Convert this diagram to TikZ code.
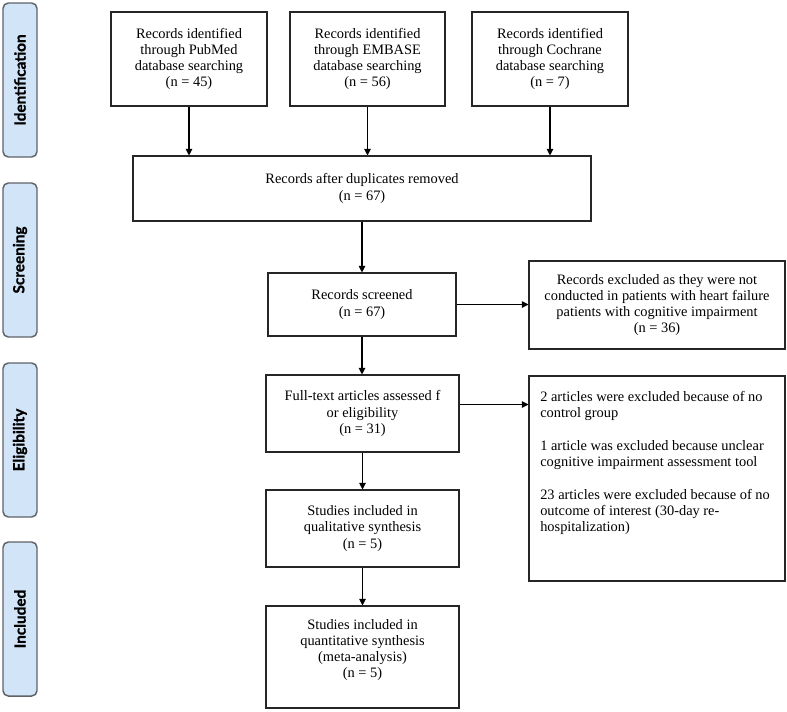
\documentclass[tikz,border=0pt]{standalone}
\usepackage{fontspec}
\setmainfont{Liberation Serif}
\newfontfamily\stagefont{Lato}[BoldFeatures={FakeBold=1.2}]
\usetikzlibrary{arrows.meta,positioning}
\definecolor{stageblue}{HTML}{D2E4F8}
\definecolor{stageedge}{HTML}{5F6368}

\begin{document}
\begin{tikzpicture}[x=0.75pt, y=-0.75pt,
    box/.style={draw=black!85, line width=0.8pt, align=center, inner sep=0pt,
      font=\fontsize{10.8}{12.2}\selectfont},
    stage/.style={draw=stageedge, fill=stageblue, rounded corners=4pt, line width=1.1pt,
      rotate=90, minimum width=115.5pt, minimum height=25.5pt,
      font=\stagefont\bfseries\fontsize{11.5}{13}\selectfont},
    arr/.style={-{Triangle[length=5pt,width=5pt]}, line width=0.8pt}]
  \useasboundingbox (0,0) rectangle (787,711);

  % Stage labels
  \node[stage] (ident) at (20,80) {Identification};
  \node[stage] (screen) at (20,260) {Screening};
  \node[stage] (elig) at (20,440) {Eligibility};
  \node[stage] (incl) at (20,619) {Included};

  % Database searches
  \node[box, minimum width=117pt, minimum height=70.5pt] (pubmed) at (189,59)
    {Records identified\\through PubMed\\database searching\\(n = 45)};
  \node[box, minimum width=116.25pt, minimum height=70.5pt] (embase) at (367.5,59)
    {Records identified\\through EMBASE\\database searching\\(n = 56)};
  \node[box, minimum width=117pt, minimum height=70.5pt] (cochrane) at (550,59)
    {Records identified\\through Cochrane\\database searching\\(n = 7)};

  % Main flow
  \node[box, minimum width=343.5pt, minimum height=48.75pt] (dup) at (362,188.5)
    {Records after duplicates removed\\(n = 67)};
  \node[box, minimum width=141pt, minimum height=47.25pt] (screened) at (362,304.5)
    {Records screened\\(n = 67)};
  \node[box, minimum width=144.75pt, minimum height=57.75pt] (fulltext) at (362.5,413.5)
    {Full-text articles assessed f\\or eligibility\\(n = 31)};
  \node[box, minimum width=144.75pt, minimum height=57.75pt] (qual) at (362.5,528.5)
    {Studies included in\\qualitative synthesis\\(n = 5)};
  \node[box, minimum width=144.75pt, minimum height=76.5pt] (quant) at (362.5,657) {};
  \node[align=center, inner sep=0pt, font=\fontsize{10.8}{12.2}\selectfont] (quanttxt)
    at (362.5,650)
    {Studies included in\\quantitative synthesis\\(meta-analysis)\\(n = 5)};

  % Exclusions
  \node[box, minimum width=192pt, minimum height=66pt] (excl1) at (657,305)
    {Records excluded as they were not\\conducted in patients with heart failure\\patients with cognitive impairment\\(n = 36)};
  \node[box, minimum width=192pt, minimum height=153.75pt] (excl2) at (657,478.5) {};
  \node[anchor=north west, align=left, inner sep=0pt,
    font=\fontsize{10.8}{12.2}\selectfont] (excl2txt) at (540,391)
    {2 articles were excluded because of no\\control group\\[12.2pt]
     1 article was excluded because unclear\\cognitive impairment assessment tool\\[12.2pt]
     23 articles were excluded because of no\\outcome of interest (30-day re-\\hospitalization)};

  % Arrows
  \draw[arr] (pubmed.south) -- (pubmed.south |- dup.north);
  \draw[arr] (embase.south) -- (embase.south |- dup.north);
  \draw[arr] (cochrane.south) -- (cochrane.south |- dup.north);
  \draw[arr] (dup.south) -- (dup.south |- screened.north);
  \draw[arr] (screened.east) -- (screened.east -| excl1.west);
  \draw[arr] (screened.south) -- (screened.south |- fulltext.north);
  \draw[arr] ([yshift=6.75pt]fulltext.east) -- ([yshift=6.75pt]fulltext.east -| excl2.west);
  \draw[arr] (fulltext.south) -- (fulltext.south |- qual.north);
  \draw[arr] (qual.south) -- (qual.south |- quant.north);
\end{tikzpicture}
\end{document}
